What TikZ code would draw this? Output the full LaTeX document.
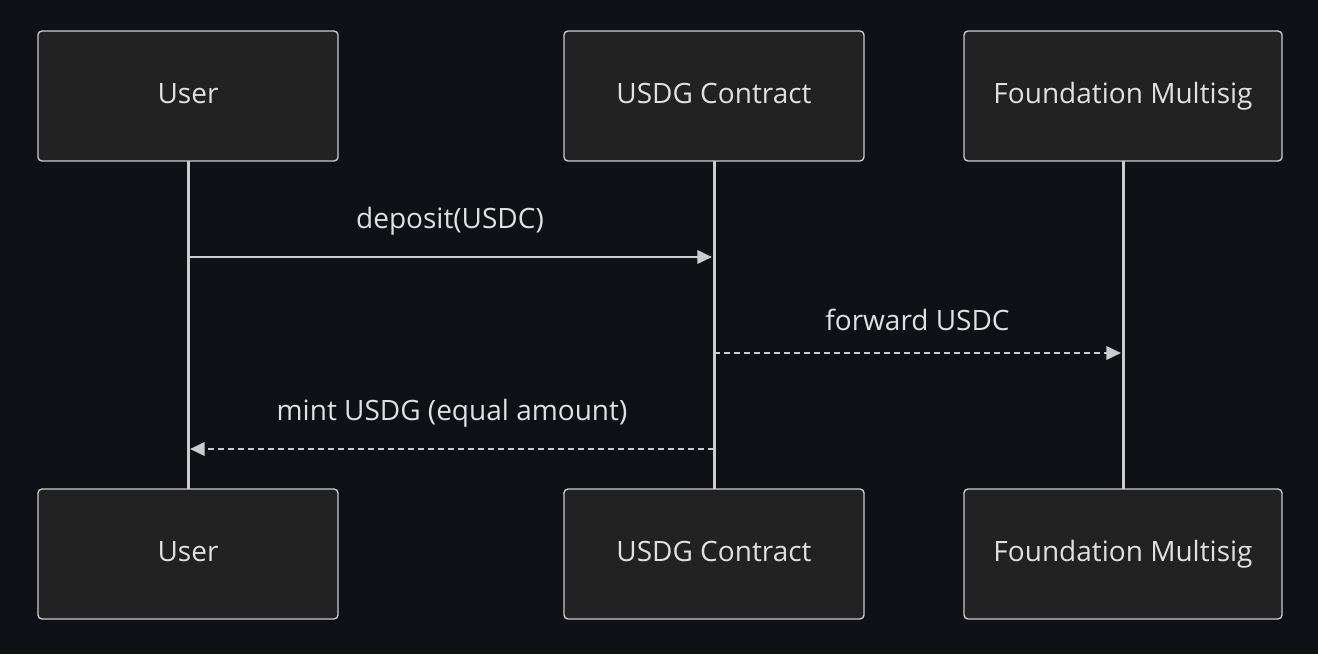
\documentclass[tikz,border=0pt]{standalone}
\usepackage{fontspec}
\setmainfont{Open Sans}
\usetikzlibrary{arrows.meta}
\definecolor{bgdark}{HTML}{0F1117}
\definecolor{boxfill}{HTML}{222222}
\definecolor{linegray}{HTML}{CCCCCC}
\definecolor{txtgray}{HTML}{E0E0E0}
\tikzstyle{actor} = [draw=linegray, fill=boxfill, rounded corners=3pt, line width=1pt, minimum width=225pt, minimum height=97.5pt, text=txtgray, text height=15pt, text depth=4pt, font=\fontsize{21}{25}\selectfont]
\tikzstyle{msg} = [linegray, line width=2pt, -{Triangle[length=11pt,width=10pt]}]
\tikzstyle{msglabel} = [text=txtgray, font=\fontsize{21}{25}\selectfont]
\begin{document}
\begin{tikzpicture}[x=0.75pt, y=-0.75pt]
            % Background
            \fill[bgdark] (0,0) rectangle (1318,654);
            \useasboundingbox (0,0) rectangle (1318,654);
            % Lifelines
            \draw[linegray, line width=2.25pt] (188,161) -- (188,489);
            \draw[linegray, line width=2.25pt] (714,161) -- (714,489);
            \draw[linegray, line width=2.25pt] (1123,161) -- (1123,489);
            % Defining nodes
            \node[actor] (userTop) at (188,96) {User};
            \node[actor] (usdgTop) at (714,96) {USDG Contract};
            \node[actor, minimum width=238.5pt] (multisigTop) at (1123,96) {Foundation Multisig};
            \node[actor] (userBot) at (188,554) {User};
            \node[actor] (usdgBot) at (714,554) {USDG Contract};
            \node[actor, minimum width=238.5pt] (multisigBot) at (1123,554) {Foundation Multisig};
            % Message points
            \coordinate (depA) at (188,257);
            \coordinate (depB) at (712,257);
            \coordinate (fwdA) at (714,353);
            \coordinate (fwdB) at (1121,353);
            \coordinate (mintA) at (714,449);
            \coordinate (mintB) at (190,449);
            % Drawing messages
            \draw[msg] (depA) -- node[msglabel, above=12pt] (depLabel) {deposit(USDC)} (depB);
            \draw[msg, dashed, dash pattern=on 4.5pt off 3pt] (fwdA) -- node[msglabel, above=12pt] (fwdLabel) {forward USDC} (fwdB);
            \draw[msg, dashed, dash pattern=on 4.5pt off 3pt] (mintA) -- node[msglabel, above=12pt] (mintLabel) {mint USDG (equal amount)} (mintB);
        \end{tikzpicture}
\end{document}
